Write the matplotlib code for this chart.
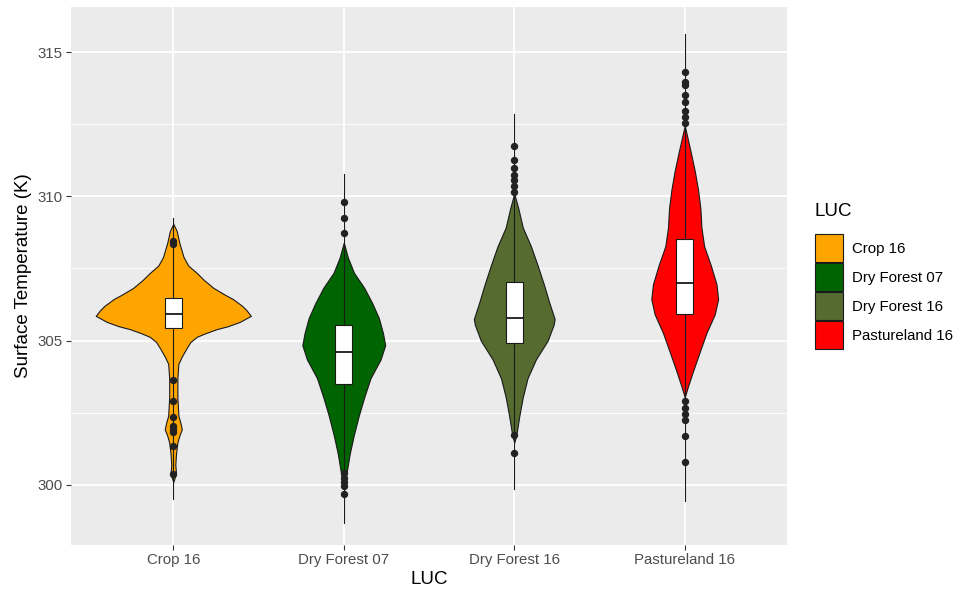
import matplotlib
matplotlib.use("Agg")
import matplotlib.pyplot as plt
from matplotlib.patches import Patch
from matplotlib.ticker import MultipleLocator

plt.rcParams['font.family'] = ['Liberation Sans', 'DejaVu Sans']

categories = ["Crop 16", "Dry Forest 07", "Dry Forest 16", "Pastureland 16"]
colors = ["#FFA500", "#006400", "#556B2F", "#FF0000"]

# violin outlines: temperature (K) and half-width (category units)
crop_y  = [309.05, 308.8, 308.4, 307.9, 307.6, 307.35, 307.1, 306.83, 306.6, 306.44, 306.2, 306.05, 305.86,
           305.65, 305.5, 305.4, 305.25, 305.13, 304.95, 304.74, 304.45, 304.2, 303.7, 303.04, 302.4, 302.15,
           301.93, 301.7, 301.47, 301.08, 300.7, 300.4, 300.1]
crop_hw = [0.0, 0.02, 0.035, 0.06, 0.088, 0.137, 0.18, 0.235, 0.3, 0.35, 0.405, 0.43, 0.455,
           0.39, 0.32, 0.255, 0.185, 0.137, 0.1, 0.078, 0.05, 0.03, 0.024, 0.024, 0.03, 0.042,
           0.05, 0.035, 0.024, 0.016, 0.012, 0.016, 0.0]

df07_y  = [308.4, 307.88, 307.35, 306.83, 306.3, 305.78, 305.26, 304.84, 304.35, 303.7, 303.04, 302.4,
           301.73, 301.08, 300.4, 299.9]
df07_hw = [0.0, 0.024, 0.06, 0.12, 0.167, 0.206, 0.23, 0.243, 0.216, 0.157, 0.12, 0.088,
           0.059, 0.035, 0.016, 0.0]

df16_y  = [310.1, 309.58, 308.92, 308.27, 307.61, 306.96, 306.31, 305.75, 305.55, 305.0, 304.35, 303.7,
           303.04, 302.4, 301.73, 301.47]
df16_hw = [0.0, 0.024, 0.05, 0.098, 0.137, 0.173, 0.206, 0.237, 0.231, 0.196, 0.127, 0.078,
           0.05, 0.03, 0.012, 0.0]

past_y  = [312.45, 312.19, 311.54, 310.88, 310.23, 309.58, 308.92, 308.27, 307.61, 306.96, 306.44, 305.91,
           305.26, 304.61, 303.95, 303.43, 303.04]
past_hw = [0.0, 0.01, 0.035, 0.059, 0.078, 0.092, 0.098, 0.114, 0.153, 0.186, 0.196, 0.176,
           0.127, 0.088, 0.049, 0.02, 0.0]

# box statistics
q1      = [305.44, 303.50, 304.93, 305.91]
medians = [305.94, 304.60, 305.78, 307.00]
q3      = [306.48, 305.55, 307.03, 308.53]
lows    = [299.51, 298.69, 299.86, 299.44]
highs   = [309.25, 310.78, 312.87, 315.61]
outliers = [
    [308.45, 308.35, 303.63, 302.91, 302.35, 302.05, 301.93, 301.85, 301.34, 300.38],
    [309.81, 309.25, 308.73, 300.4, 300.25, 300.1, 299.97, 299.68],
    [311.73, 311.27, 310.99, 310.75, 310.55, 310.35, 310.15, 301.73, 301.1],
    [314.31, 313.95, 313.85, 313.5, 313.26, 312.97, 312.75, 312.55, 302.9, 302.65, 302.45, 302.25, 301.71, 300.79],
]

violins = [(crop_y, crop_hw), (df07_y, df07_hw), (df16_y, df16_hw), (past_y, past_hw)]

fig = plt.figure(figsize=(9.67, 5.92), dpi=100)
ax = fig.add_axes([71/967, 1 - 545/592, (787 - 71)/967, (545 - 7)/592])
ax.set_facecolor("#EBEBEB")

positions = list(range(1, len(categories) + 1))
for pos, (vy, vhw), col in zip(positions, violins, colors):
    left = [pos - h for h in vhw]
    right = [pos + h for h in vhw]
    ax.fill_betweenx(vy, left, right, facecolor=col, edgecolor="#1a1a1a", linewidth=0.8, zorder=2)

stats = []
for i, name in enumerate(categories):
    stats.append(dict(label=name, med=medians[i], q1=q1[i], q3=q3[i],
                      whislo=lows[i], whishi=highs[i], fliers=outliers[i]))

ax.bxp(stats, positions=positions, widths=0.1, showcaps=False, patch_artist=True,
       boxprops=dict(facecolor="white", edgecolor="#1a1a1a", linewidth=0.8),
       whiskerprops=dict(color="#1a1a1a", linewidth=0.8),
       medianprops=dict(color="#1a1a1a", linewidth=1.3),
       flierprops=dict(marker="o", markersize=4.3, markerfacecolor="#222222",
                       markeredgecolor="#222222", linestyle="none"),
       zorder=3)

ax.set_xlim(0.4, 4.6)
ax.set_ylim(297.92, 316.56)
ax.set_xticks(positions)
ax.set_xticklabels(categories)
ax.set_yticks([300, 305, 310, 315])
ax.yaxis.set_minor_locator(MultipleLocator(2.5))
ax.xaxis.set_minor_locator(matplotlib.ticker.NullLocator())
ax.set_axisbelow(True)
ax.grid(which="major", color="white", linewidth=1.3)
ax.grid(which="minor", axis="y", color="white", linewidth=0.65)
for s in ax.spines.values():
    s.set_visible(False)
ax.tick_params(axis="both", which="major", length=3.4, width=0.8, color="#333333",
               labelsize=10.8, labelcolor="#4D4D4D", pad=2.5)
ax.tick_params(axis="y", which="minor", length=0)

ax.set_xlabel("LUC", fontsize=13.5, color="black", labelpad=3)
ax.set_ylabel("Surface Temperature (K)", fontsize=13.5, color="black", labelpad=4)

# legend: title as text, keys below it
fig.text(815/967, 1 - 212/592, "LUC", fontsize=13.5, color="black", ha="left", va="center")
handles = [Patch(facecolor=c, edgecolor="#1a1a1a", linewidth=0.8) for c in colors]
leg = fig.legend(handles, categories, loc="upper left",
                 bbox_to_anchor=(815/967, 1 - 234/592), bbox_transform=fig.transFigure,
                 frameon=False, fontsize=10.8,
                 handlelength=1.87, handleheight=2.5, labelspacing=0.07,
                 handletextpad=0.6, borderpad=0, borderaxespad=0)

fig.savefig("out.png", dpi=100)
